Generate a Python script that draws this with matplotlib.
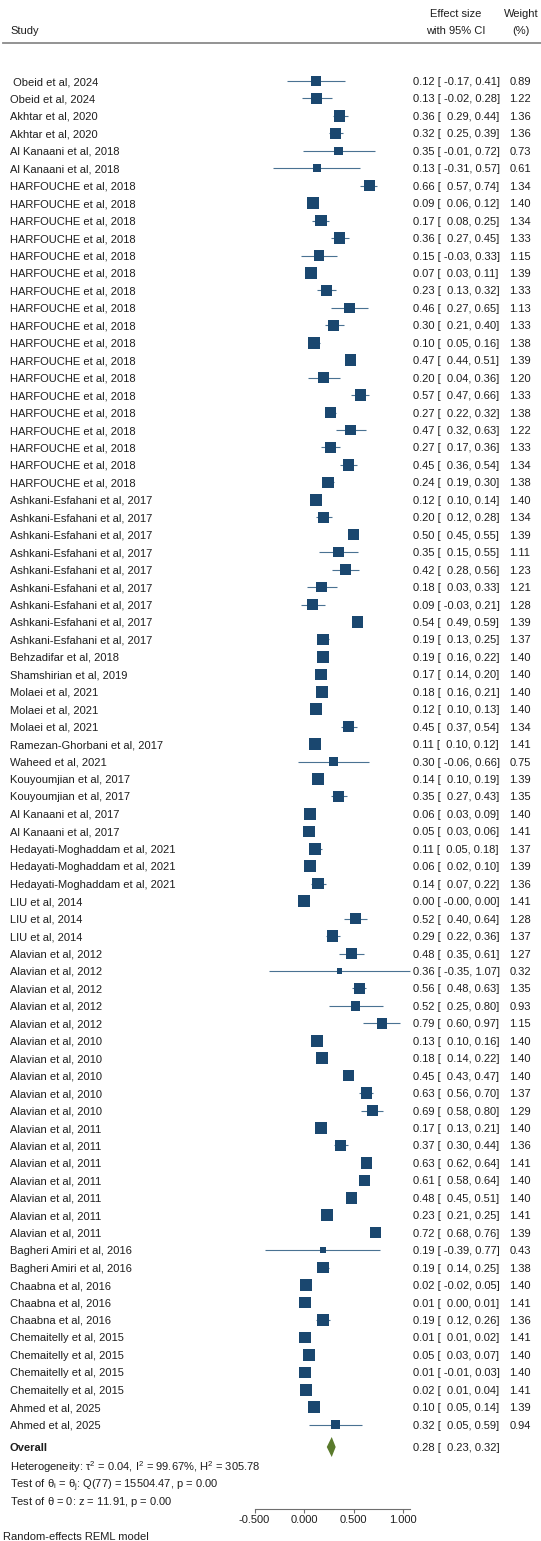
import numpy as np
import matplotlib.pyplot as plt

plt.rcParams['font.family'] = ['Liberation Sans', 'DejaVu Sans']
plt.rcParams['mathtext.fontset'] = 'custom'
plt.rcParams['mathtext.rm'] = 'Liberation Sans'
plt.rcParams['mathtext.it'] = 'Liberation Sans:italic'
plt.rcParams['mathtext.bf'] = 'Liberation Sans:bold'

# Study-level estimates (proportion, 95% CI, random-effects weight in %)
studies = (
    [" Obeid et al, 2024", "Obeid et al, 2024",
     "Akhtar et al, 2020", "Akhtar et al, 2020",
     "Al Kanaani et al, 2018", "Al Kanaani et al, 2018"]
    + ["HARFOUCHE et al, 2018"] * 18
    + ["Ashkani-Esfahani et al, 2017"] * 9
    + ["Behzadifar et al, 2018", "Shamshirian et al, 2019"]
    + ["Molaei et al, 2021"] * 3
    + ["Ramezan-Ghorbani et al, 2017", "Waheed et al, 2021"]
    + ["Kouyoumjian et al, 2017"] * 2
    + ["Al Kanaani et al, 2017"] * 2
    + ["Hedayati-Moghaddam et al, 2021"] * 3
    + ["LIU et al, 2014"] * 3
    + ["Alavian et al, 2012"] * 5
    + ["Alavian et al, 2010"] * 5
    + ["Alavian et al, 2011"] * 7
    + ["Bagheri Amiri et al, 2016"] * 2
    + ["Chaabna et al, 2016"] * 3
    + ["Chemaitelly et al, 2015"] * 4
    + ["Ahmed et al, 2025"] * 2
)

effect = [0.12, 0.13, 0.36, 0.32, 0.35, 0.13,
          0.66, 0.09, 0.17, 0.36, 0.15, 0.07, 0.23, 0.46, 0.30, 0.10,
          0.47, 0.20, 0.57, 0.27, 0.47, 0.27, 0.45, 0.24,
          0.12, 0.20, 0.50, 0.35, 0.42, 0.18, 0.09, 0.54, 0.19,
          0.19, 0.17, 0.18, 0.12, 0.45, 0.11, 0.30, 0.14, 0.35,
          0.06, 0.05, 0.11, 0.06, 0.14, 0.00, 0.52, 0.29,
          0.48, 0.36, 0.56, 0.52, 0.79,
          0.13, 0.18, 0.45, 0.63, 0.69,
          0.17, 0.37, 0.63, 0.61, 0.48, 0.23, 0.72,
          0.19, 0.19, 0.02, 0.01, 0.19,
          0.01, 0.05, 0.01, 0.02, 0.10, 0.32]

ci_low = [-0.17, -0.02, 0.29, 0.25, -0.01, -0.31,
          0.57, 0.06, 0.08, 0.27, -0.03, 0.03, 0.13, 0.27, 0.21, 0.05,
          0.44, 0.04, 0.47, 0.22, 0.32, 0.17, 0.36, 0.19,
          0.10, 0.12, 0.45, 0.15, 0.28, 0.03, -0.03, 0.49, 0.13,
          0.16, 0.14, 0.16, 0.10, 0.37, 0.10, -0.06, 0.10, 0.27,
          0.03, 0.03, 0.05, 0.02, 0.07, -0.0, 0.40, 0.22,
          0.35, -0.35, 0.48, 0.25, 0.60,
          0.10, 0.14, 0.43, 0.56, 0.58,
          0.13, 0.30, 0.62, 0.58, 0.45, 0.21, 0.68,
          -0.39, 0.14, -0.02, 0.00, 0.12,
          0.01, 0.03, -0.01, 0.01, 0.05, 0.05]

ci_high = [0.41, 0.28, 0.44, 0.39, 0.72, 0.57,
           0.74, 0.12, 0.25, 0.45, 0.33, 0.11, 0.32, 0.65, 0.40, 0.16,
           0.51, 0.36, 0.66, 0.32, 0.63, 0.36, 0.54, 0.30,
           0.14, 0.28, 0.55, 0.55, 0.56, 0.33, 0.21, 0.59, 0.25,
           0.22, 0.20, 0.21, 0.13, 0.54, 0.12, 0.66, 0.19, 0.43,
           0.09, 0.06, 0.18, 0.10, 0.22, 0.00, 0.64, 0.36,
           0.61, 1.07, 0.63, 0.80, 0.97,
           0.16, 0.22, 0.47, 0.70, 0.80,
           0.21, 0.44, 0.64, 0.64, 0.51, 0.25, 0.76,
           0.77, 0.25, 0.05, 0.01, 0.26,
           0.02, 0.07, 0.03, 0.04, 0.14, 0.59]

weight = [0.89, 1.22, 1.36, 1.36, 0.73, 0.61,
          1.34, 1.40, 1.34, 1.33, 1.15, 1.39, 1.33, 1.13, 1.33, 1.38,
          1.39, 1.20, 1.33, 1.38, 1.22, 1.33, 1.34, 1.38,
          1.40, 1.34, 1.39, 1.11, 1.23, 1.21, 1.28, 1.39, 1.37,
          1.40, 1.40, 1.40, 1.40, 1.34, 1.41, 0.75, 1.39, 1.35,
          1.40, 1.41, 1.37, 1.39, 1.36, 1.41, 1.28, 1.37,
          1.27, 0.32, 1.35, 0.93, 1.15,
          1.40, 1.40, 1.40, 1.37, 1.29,
          1.40, 1.36, 1.41, 1.40, 1.40, 1.41, 1.39,
          0.43, 1.38, 1.40, 1.41, 1.36,
          1.41, 1.40, 1.40, 1.41, 1.39, 0.94]

overall_es, overall_lo, overall_hi = 0.28, 0.23, 0.32
tau2, i2, h2 = 0.04, 99.67, 305.78
q_stat, q_df = 15504.47, 77
z_stat = 11.91

xticks = [-0.5, 0.0, 0.5, 1.0]

# colours
navy = '#1a476f'
ci_col = '#4a7292'
diamond_col = '#5a7a2c'
txt_col = '#1e1e1e'
fs = 8

# layout, in pixels of the output image
W, H = 541, 1541
first_row_px, row_px = 81, 17.45
axis_px = 1509
zero_px, unit_px = 304, 99


def row_at(px):
    return (px - first_row_px) / row_px + 1


def xfrac(px):
    return px / W


n = len(studies)
rows = np.arange(1, n + 1)

fig = plt.figure(figsize=(W / 100, H / 100), dpi=100)
ax = fig.add_axes([0, (H - axis_px) / H, 1, axis_px / H])
ax.set_xlim(-zero_px / unit_px, (W - zero_px) / unit_px)
ax.set_ylim(row_at(axis_px), row_at(0))

for side in ['left', 'right', 'top']:
    ax.spines[side].set_visible(False)
ax.spines['bottom'].set_bounds(xticks[0], max(ci_high))
ax.spines['bottom'].set_color('#6e6e6e')
ax.spines['bottom'].set_linewidth(0.8)
ax.set_yticks([])
ax.set_xticks(xticks)
ax.set_xticklabels([f'{t:.3f}' for t in xticks])
ax.tick_params(axis='x', length=3, width=0.8, color='#6e6e6e',
               labelsize=fs, labelcolor=txt_col, pad=1.5)
ax.patch.set_alpha(0)

# confidence intervals and weighted squares
ax.hlines(rows, ci_low, ci_high, color=ci_col, lw=0.8, zorder=2)
side_pt = 9.8 * np.sqrt(weight) * 72 / 100
ax.scatter(effect, rows, marker='s', s=side_pt ** 2, color=navy,
           linewidths=0, zorder=3)

# pooled estimate
ov_row = row_at(1447)
half_h = 10 / row_px
ax.fill([overall_lo, overall_es, overall_hi, overall_es],
        [ov_row, ov_row - half_h, ov_row, ov_row + half_h],
        color=diamond_col, lw=0, zorder=3)

tr = ax.get_yaxis_transform()
kw = dict(transform=tr, fontsize=fs, color=txt_col, va='center_baseline')

# header
ax.text(xfrac(10), row_at(30), 'Study', ha='left', **kw)
ax.text(xfrac(456), row_at(13), 'Effect size', ha='center', **kw)
ax.text(xfrac(456), row_at(30), 'with 95% CI', ha='center', **kw)
ax.text(xfrac(521), row_at(13), 'Weight', ha='center', **kw)
ax.text(xfrac(521), row_at(30), '(%)', ha='center', **kw)
ax.plot([xfrac(3), 1], [row_at(43)] * 2, transform=tr, color='#8a8a8a',
        lw=1.3, clip_on=False)

# study rows
for r, name, e, lo, hi, w in zip(rows, studies, effect, ci_low, ci_high, weight):
    ax.text(xfrac(10), r, name, ha='left', **kw)
    ax.text(xfrac(413), r, f'{e:.2f} [{lo:6.2f}, {hi:.2f}]', ha='left', **kw)
    ax.text(xfrac(520), r, f'{w:.2f}', ha='center', **kw)

ax.text(xfrac(10), ov_row, 'Overall', ha='left', fontweight='bold', **kw)
ax.text(xfrac(413), ov_row,
        f'{overall_es:.2f} [{overall_lo:6.2f}, {overall_hi:.2f}]', ha='left', **kw)

ax.text(xfrac(10), row_at(1465),
        r'Heterogeneity: $\mathregular{\tau^2}$ = ' + f'{tau2:.2f}, '
        + r'$\mathregular{I^2}$ = ' + f'{i2:.2f}%, '
        + r'$\mathregular{H^2}$ = ' + f'{h2:.2f}', ha='left', **kw)
ax.text(xfrac(10), row_at(1483),
        r'Test of $\mathregular{\theta_i}$ = $\mathregular{\theta_j}$: '
        + f'Q({q_df}) = {q_stat:.2f}, p = 0.00', ha='left', **kw)
ax.text(xfrac(10), row_at(1500),
        r'Test of $\mathregular{\theta}$ = 0: ' + f'z = {z_stat:.2f}, p = 0.00',
        ha='left', **kw)

fig.text(xfrac(3), 1 - 1536 / H, 'Random-effects REML model', ha='left',
         va='center_baseline', fontsize=fs, color=txt_col)

fig.savefig('out.png', dpi=100, facecolor='white')
